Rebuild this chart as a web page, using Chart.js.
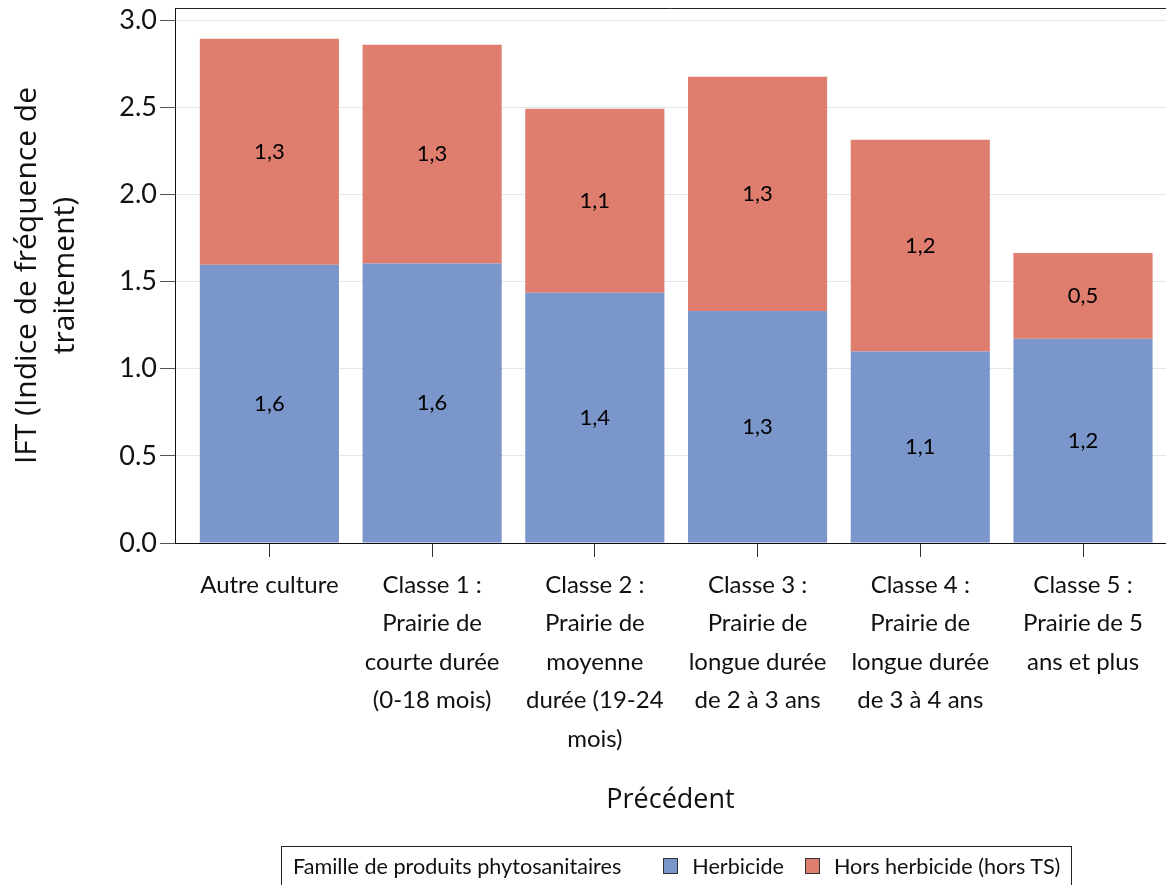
<!DOCTYPE html>
<html>
<head>
<meta charset="utf-8">
<script src="https://cdn.jsdelivr.net/npm/chart.js@4.4.0/dist/chart.umd.min.js"></script>
<style>
  body { margin: 0; background: #fff; }
  #wrap { position: relative; width: 1166px; height: 885px; overflow: hidden; }
  #legend {
    position: absolute; left: 281px; top: 846px; width: 791px; height: 60px;
    border: 1px solid #222; box-sizing: border-box;
    display: flex; align-items: flex-start; padding: 6px 0 0 11px;
    font-family: Lato, sans-serif; font-size: 21.6px; color: #111;
    white-space: nowrap; overflow: hidden;
  }
  #legend > span { flex-shrink: 0; }
  #legend .title { margin-right: 42px; }
  #legend .item { display: flex; align-items: center; margin-right: 21px; }
  #legend .box { width: 13px; height: 14px; border: 1px solid #333; margin-right: 14px; }
</style>
</head>
<body>
<div id="wrap">
  <canvas id="chart" width="1166" height="885"></canvas>
  <div id="legend"></div>
</div>
<script>
// Categories (multi-line tick labels)
const categories = [
    ["Autre culture"],
    ["Classe 1 :", "Prairie de", "courte durée", "(0-18 mois)"],
    ["Classe 2 :", "Prairie de", "moyenne", "durée (19-24", "mois)"],
    ["Classe 3 :", "Prairie de", "longue durée", "de 2 à 3 ans"],
    ["Classe 4 :", "Prairie de", "longue durée", "de 3 à 4 ans"],
    ["Classe 5 :", "Prairie de 5", "ans et plus"],
];

// Series values
const herbicide = [1.596, 1.604, 1.436, 1.332, 1.099, 1.172];
const horsHerbicide = [1.298, 1.255, 1.056, 1.343, 1.215, 0.492];

const seriesNames = ["Herbicide", "Hors herbicide (hors TS)"];
const seriesColors = ["#7b96cb", "#df7e6f"];
const legendTitle = "Famille de produits phytosanitaires";

// Y tick labels
const yTicks = [0, 0.5, 1.0, 1.5, 2.0, 2.5, 3.0];

// Draw the value in the middle of each bar piece
const barLabels = {
    id: "barLabels",
    afterDatasetsDraw(chart) {
        const ctx = chart.ctx;
        ctx.save();
        ctx.font = "22px Lato";
        ctx.fillStyle = "#000";
        ctx.textAlign = "center";
        ctx.textBaseline = "middle";
        chart.data.datasets.forEach((ds, di) => {
            chart.getDatasetMeta(di).data.forEach((bar, i) => {
                const p = bar.getProps(["x", "y", "base"], true);
                const txt = ds.data[i].y.toFixed(1).replace(".", ",");
                ctx.fillText(txt, p.x, (p.y + p.base) / 2);
            });
        });
        ctx.restore();
    },
};

// Top line of the plot frame
const frameTop = {
    id: "frameTop",
    afterDraw(chart) {
        const { ctx, chartArea } = chart;
        ctx.save();
        ctx.strokeStyle = "#222";
        ctx.lineWidth = 1;
        ctx.beginPath();
        ctx.moveTo(chartArea.left, chartArea.top + 0.5);
        ctx.lineTo(chartArea.right, chartArea.top + 0.5);
        ctx.stroke();
        ctx.restore();
    },
};

const series = [herbicide, horsHerbicide];

new Chart(document.getElementById("chart"), {
    type: "bar",
    plugins: [barLabels, frameTop],
    data: {
        datasets: series.map((vals, s) => ({
            label: seriesNames[s],
            backgroundColor: seriesColors[s],
            borderWidth: 0,
            data: vals.map((v, i) => ({ x: i, y: v })),
            barPercentage: 0.855,
            categoryPercentage: 1,
        })),
    },
    options: {
        responsive: false,
        animation: false,
        layout: { padding: { top: 8, right: 0, left: 0, bottom: 0 } },
        plugins: {
            legend: { display: false },
            tooltip: { enabled: false },
        },
        scales: {
            x: {
                type: "linear",
                stacked: true,
                offset: false,
                min: -0.58,
                max: 5.51,
                afterBuildTicks: (scale) => {
                    scale.ticks = categories.map((c, i) => ({ value: i }));
                },
                afterFit: (scale) => {
                    scale.height = 342;
                    scale.paddingLeft = 0;
                    scale.paddingRight = 0;
                },
                ticks: {
                    autoSkip: false,
                    maxRotation: 0,
                    padding: 9,
                    color: "#111",
                    font: { family: "Lato", size: 24, lineHeight: 1.6 },
                    callback: (v) => categories[v],
                },
                grid: { offset: false, drawOnChartArea: false, tickLength: 14, color: "#333" },
                border: { color: "#111" },
                title: {
                    display: true,
                    text: "Précédent",
                    color: "#111",
                    font: { family: "Open Sans", size: 27, lineHeight: 1.2 },
                    padding: { top: 0, bottom: 68 },
                },
            },
            y: {
                stacked: true,
                min: 0,
                max: 3.07,
                afterBuildTicks: (scale) => {
                    scale.ticks = yTicks.map((v) => ({ value: v }));
                },
                afterFit: (scale) => {
                    scale.width = 175;
                    scale.paddingTop = 0;
                    scale.paddingBottom = 0;
                },
                ticks: {
                    padding: 3,
                    color: "#111",
                    font: { family: "Lato", size: 27 },
                    callback: (v) => v.toFixed(1),
                },
                grid: { color: "#e2e8e8", tickColor: "#555", tickLength: 15 },
                border: { color: "#111" },
                title: {
                    display: true,
                    text: ["IFT (Indice de fréquence de", "traitement)"],
                    color: "#111",
                    font: { family: "Open Sans", size: 30, lineHeight: 1.25 },
                    padding: { top: 9, bottom: 0 },
                },
            },
        },
    },
});

// HTML legend built from the series
const legend = document.getElementById("legend");
const t = document.createElement("span");
t.className = "title";
t.textContent = legendTitle;
legend.appendChild(t);
seriesNames.forEach((name, s) => {
    const item = document.createElement("span");
    item.className = "item";
    item.innerHTML = `<span class="box" style="background:${seriesColors[s]}"></span>${name}`;
    legend.appendChild(item);
});
</script>
</body>
</html>
